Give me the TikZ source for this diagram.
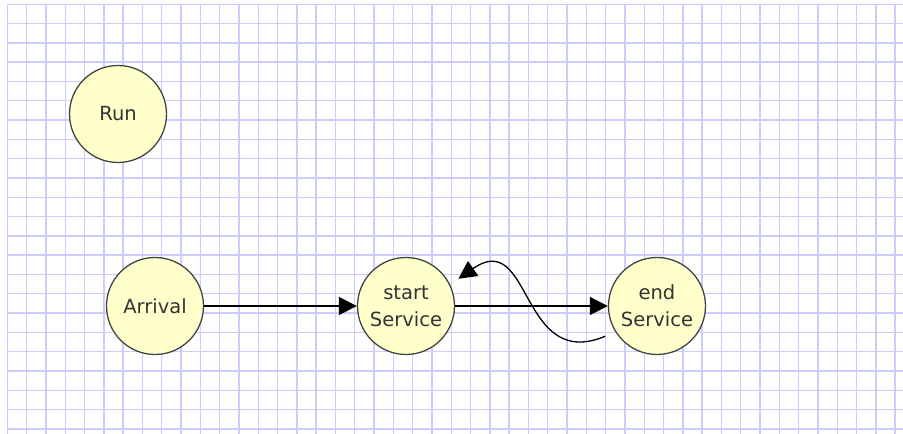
\documentclass[tikz,border=0pt]{standalone}
\usepackage{fontspec}
\setmainfont{DejaVu Sans}
\usepackage{tikz}
\usetikzlibrary{arrows.meta,positioning}
\definecolor{gridblue}{RGB}{204,204,255}
\definecolor{stateyellow}{RGB}{255,255,204}
\definecolor{stateborder}{RGB}{68,68,68}
\definecolor{labelgray}{RGB}{51,51,51}

\begin{document}
\begin{tikzpicture}[
      x=1pt,y=1pt,
      node distance=152.7pt,
      state/.style={circle,draw=stateborder,line width=1.3pt,fill=stateyellow,minimum size=97pt,inner sep=0pt,align=center,text=labelgray,font=\fontsize{19.5}{26.7}\selectfont},
      arrow/.style={-{Triangle[length=18pt,width=18pt]},line width=1.3pt},
      gridline/.style={draw=gridblue,line width=1.4pt}
    ]
    \useasboundingbox (0,0) rectangle (903,434);
    \draw[gridline,shift={(7.3,5.1)},step=19.3pt] (0,-5.1) grid (895.7,424.7);
    \node[state] (run) at (118,320) {Run};
    \node[state] (arrival) at (155,128) {Arrival};
    \node[state,right=of arrival] (startsvc) {start\\Service};
    \node[state,right=of startsvc] (endsvc) {end\\Service};
    \draw[arrow] (arrival) -- (startsvc);
    \draw[arrow] (startsvc) -- (endsvc);
    \draw[arrow,shorten <=11pt,shorten >=10pt] (endsvc.212) .. controls +(-96,-40) and +(82,57) .. (startsvc.26);
  \end{tikzpicture}
\end{document}
